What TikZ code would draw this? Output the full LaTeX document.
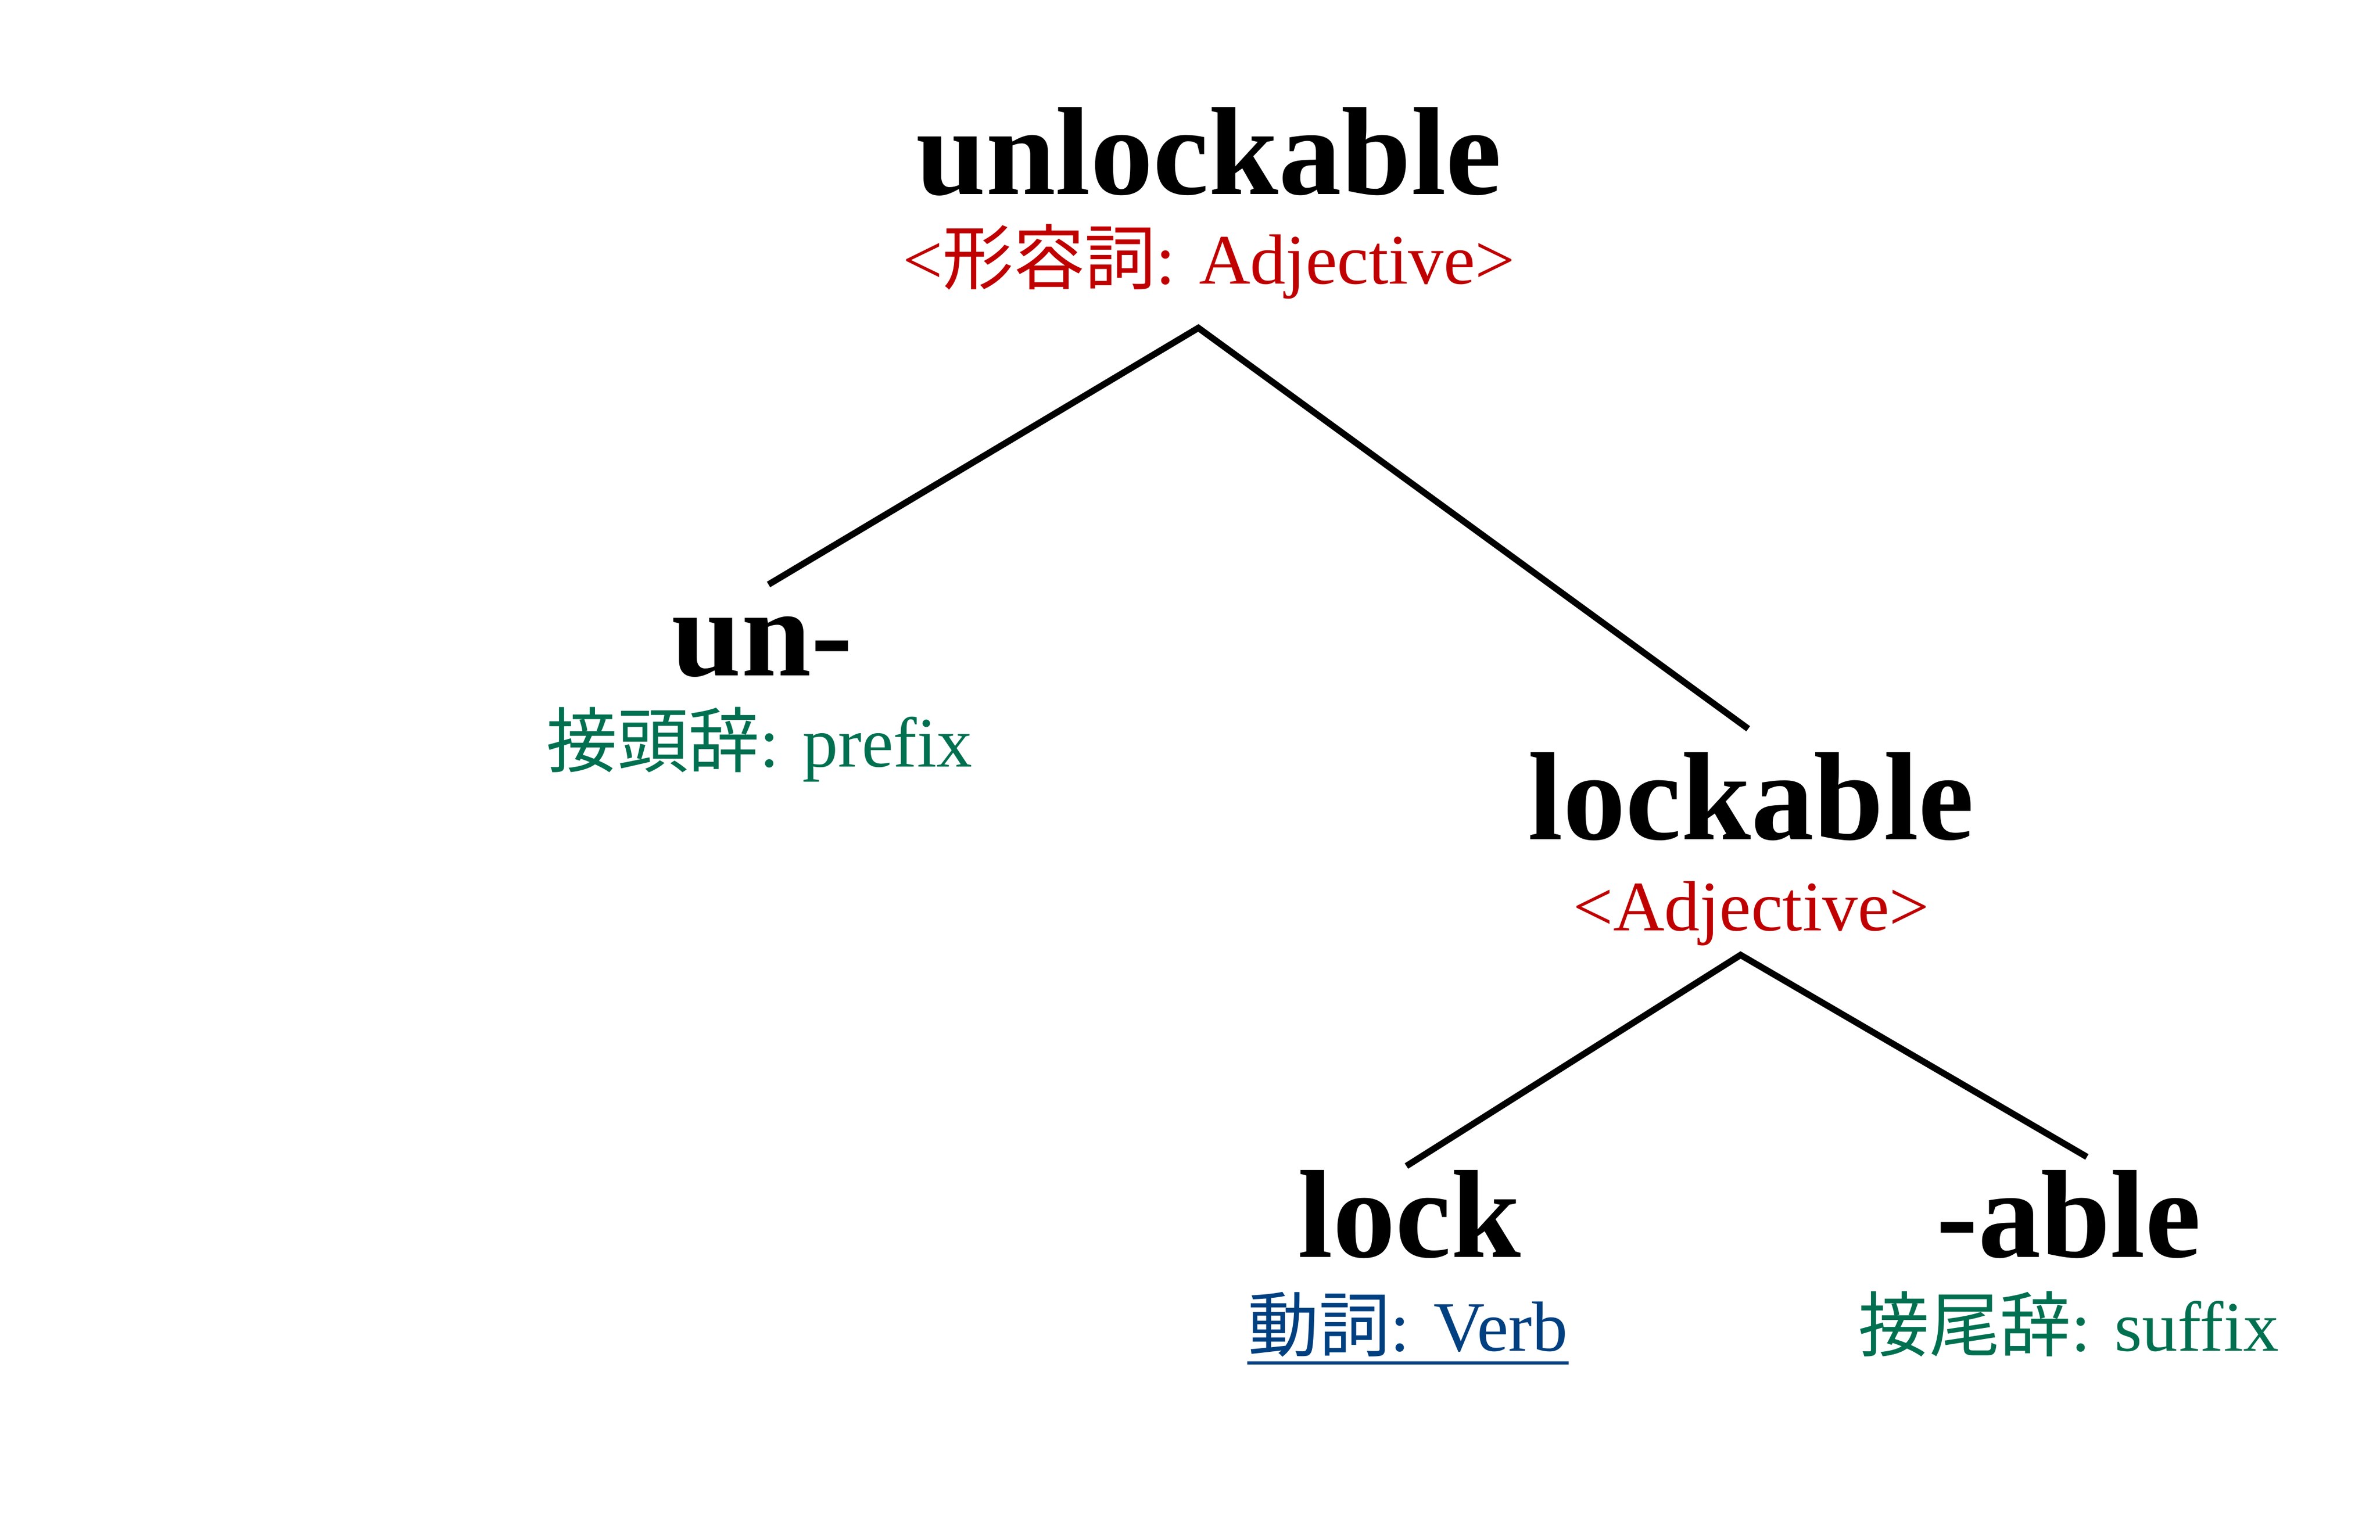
\documentclass[tikz,border=0pt]{standalone}
\usepackage{fontspec}
\setmainfont{Liberation Serif}
\newfontfamily\cjk{Noto Sans CJK JP}
\definecolor{posred}{RGB}{192,0,0}
\definecolor{posgreen}{RGB}{0,112,80}
\definecolor{posblue}{RGB}{0,64,128}

\begin{document}
\begin{tikzpicture}
\tikzset{word/.style={anchor=base,inner sep=0pt,font=\fontsize{23.5}{28}\selectfont\bfseries},
	pos/.style={anchor=base,inner sep=0pt,font=\fontsize{13.3}{16}\selectfont,text=#1},
	branch/.style={line width=1.2pt}
}
\useasboundingbox (0,-0.1) rectangle (15.67,10.04);

% words and their labels
\node[word] (unlockable) at (7.96,8.76) {unlockable};
\node[pos=posred] (adj) at (7.96,8.17) {<{\cjk 形容詞}: Adjective>};
\node[word] (un) at (5.02,5.59) {un-};
\node[pos=posgreen] (prefix) at (5.00,4.99) {{\cjk 接頭辞}: prefix};
\node[word] (lockable) at (11.53,4.51) {lockable};
\node[pos=posred] (adjb) at (11.53,3.91) {<Adjective>};
\node[word] (lock) at (9.28,1.76) {lock};
\node[pos=posblue] (verb) at (9.27,1.14) {{\cjk 動詞}: Verb};
\node[word] (able) at (13.62,1.76) {-able};
\node[pos=posgreen] (suffix) at (13.62,1.14) {{\cjk 接尾辞}: suffix};
\draw[posblue,line width=0.6pt] ([yshift=-0.03cm]verb.south west) -- ([yshift=-0.03cm]verb.south east);

% branch ends
\coordinate (top1) at (7.89,7.88);
\coordinate (top2) at (11.46,3.75);
\coordinate (unend) at (5.06,6.19);
\coordinate (lockableend) at (11.51,5.24);
\coordinate (lockend) at (9.26,2.36);
\coordinate (ableend) at (13.74,2.42);

\draw[branch] (unend) -- (top1) -- (lockableend);
\draw[branch] (lockend) -- (top2) -- (ableend);
\end{tikzpicture}
\end{document}
